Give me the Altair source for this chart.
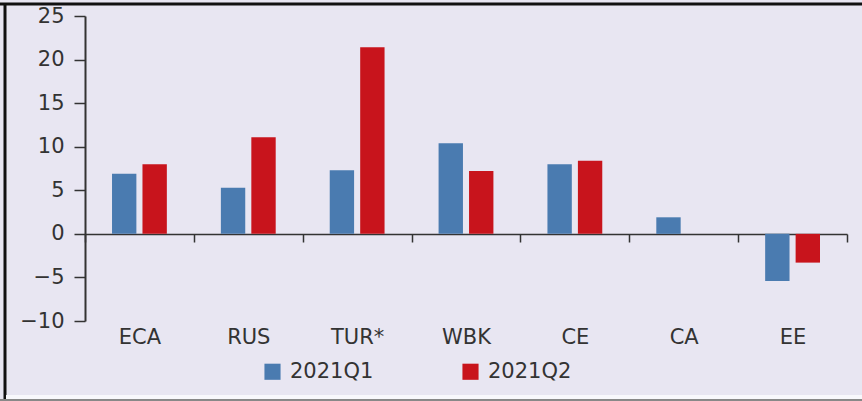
import altair as alt
import pandas as pd

categories = ["ECA", "RUS", "TUR*", "WBK", "CE", "CA", "EE"]
q1_values = [6.9, 5.3, 7.3, 10.4, 8.0, 1.9, -5.4]
q2_values = [8.0, 11.1, 21.4, 7.2, 8.4, None, -3.3]
series_names = ["2021Q1", "2021Q2"]
series_colors = ["#4a7bb0", "#c8141c"]
y_ticks = [-10, -5, 0, 5, 10, 15, 20, 25]

rows = []
for c, a, b in zip(categories, q1_values, q2_values):
    rows.append({"cat": c, "series": series_names[0], "value": a})
    if b is not None:
        rows.append({"cat": c, "series": series_names[1], "value": b})
df = pd.DataFrame(rows)

W, H = 762, 305
FONT = "DejaVu Sans"
TXT = "#333333"
FS = 21

bars = alt.Chart(df).mark_bar().encode(
    x=alt.X("cat:N", sort=categories, title=None,
            scale=alt.Scale(paddingInner=0, paddingOuter=0),
            axis=alt.Axis(labelAngle=0, labelFont=FONT, labelFontSize=FS, labelColor=TXT,
                          domain=True, domainColor=TXT, domainWidth=1.5,
                          ticks=True, tickBand="extent", tickColor=TXT, tickWidth=1.5, tickSize=8,
                          offset=-87, labelPadding=84)),
    xOffset=alt.XOffset("series:N", sort=series_names,
                        scale=alt.Scale(paddingInner=0.2, paddingOuter=0.887)),
    y=alt.Y("value:Q", title=None,
            scale=alt.Scale(domain=[-10, 25], nice=False, zero=False),
            axis=alt.Axis(values=y_ticks, grid=False, labelFont=FONT, labelFontSize=FS,
                          labelColor=TXT, domainColor=TXT, domainWidth=2,
                          tickColor=TXT, tickWidth=1.5, tickSize=11, labelPadding=10)),
    color=alt.Color("series:N", sort=series_names,
                    scale=alt.Scale(domain=series_names, range=series_colors),
                    legend=alt.Legend(title=None, orient="none", legendX=177, legendY=345,
                                      direction="horizontal", symbolType="square",
                                      symbolSize=260, symbolStrokeWidth=0,
                                      labelFont=FONT, labelFontSize=FS, labelColor=TXT,
                                      labelOffset=7, columnPadding=86)),
)

frame = alt.Data(values=[{}])
top_line = alt.Chart(frame).mark_rule(color="#111111", strokeWidth=3).encode(
    x=alt.value(-85), x2=alt.value(W + 15), y=alt.value(-12))
left_line = alt.Chart(frame).mark_rule(color="#111111", strokeWidth=3).encode(
    x=alt.value(-80), y=alt.value(-13), y2=alt.value(H + 80))
bottom_white = alt.Chart(frame).mark_rule(color="#f8f8fc", strokeWidth=4).encode(
    x=alt.value(-79), x2=alt.value(W + 15), y=alt.value(H + 76))
bottom_line = alt.Chart(frame).mark_rule(color="#888888", strokeWidth=2).encode(
    x=alt.value(-85), x2=alt.value(W + 15), y=alt.value(H + 79))

chart = alt.layer(bars, top_line, left_line, bottom_white, bottom_line).properties(
    width=W, height=H,
    autosize=alt.AutoSizeParams(type="none"),
    padding={"left": 85, "top": 16, "right": 15, "bottom": 80},
    background="#e8e6f2",
).configure_view(stroke=None)

chart.save("out.html", embed_options={"renderer": "svg", "actions": False})
